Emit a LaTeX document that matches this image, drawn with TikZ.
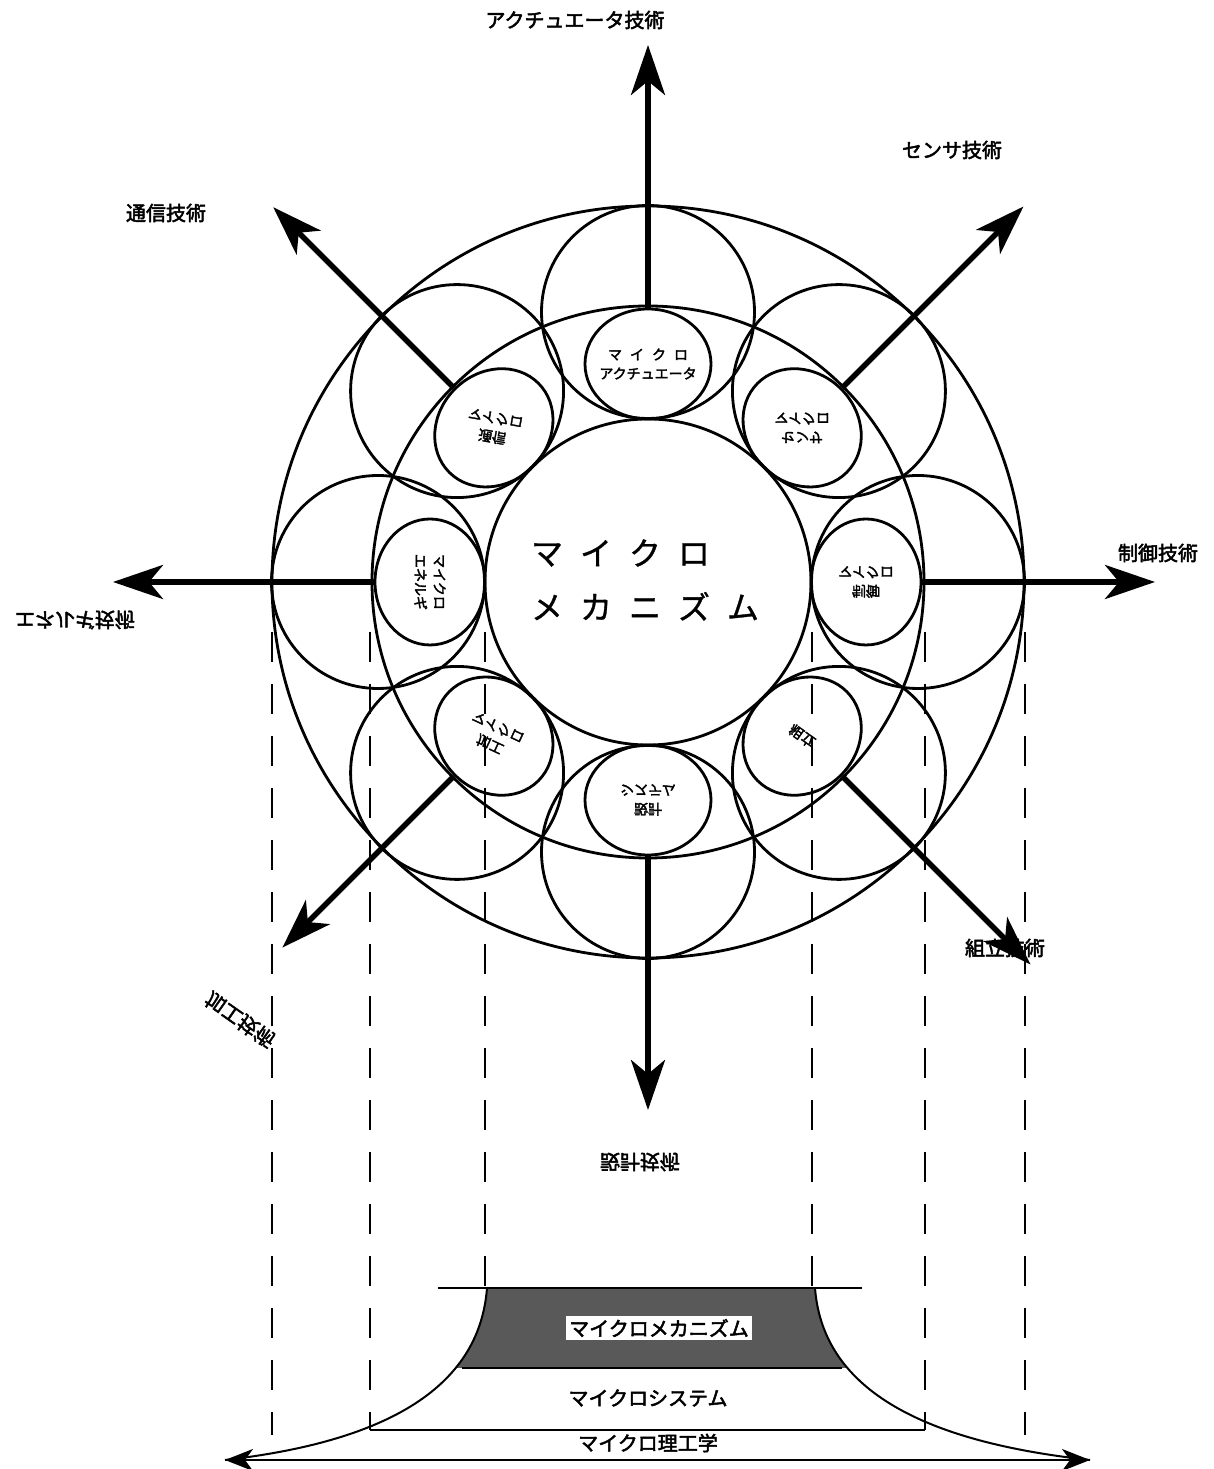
\documentclass[tikz,border=0pt]{standalone}
\usepackage{fontspec}
\usetikzlibrary{arrows.meta,calc,shapes.geometric}
\newfontfamily\jp[FakeBold=1]{Noto Sans CJK JP}
\newfontfamily\jpb[FakeBold=2.5]{Noto Sans CJK JP}
\newcommand\gap{\hspace{17pt}}
\newcommand\sgap{\hspace{8pt}}
\begin{document}
\begin{tikzpicture}[x=1pt,y=1pt,
  ring/.style={circle, draw, line width=2.8pt, inner sep=0pt},
  cell/.style={ellipse, draw, line width=2.8pt, inner sep=0pt, minimum width=126pt, minimum height=110pt},
  bigarrow/.style={line width=5.5pt, -{Stealth[length=50pt,width=34pt,inset=14pt]}},
  guide/.style={line width=2.2pt, dash pattern=on 30pt off 22pt},
  outlab/.style={font=\jpb\fontsize{20}{24}\selectfont, inner sep=1pt},
  inlab/.style={font=\jpb\fontsize{14}{19}\selectfont, align=center, inner sep=1pt},
  flip/.style={yscale=-1},
  band/.style={font=\jpb\fontsize{20}{22}\selectfont, inner sep=3pt},
  thin/.style={line width=2pt},
]
\useasboundingbox (0,0) rectangle (1213,1469);
\fill[white] (0,0) rectangle (1213,1469);
\coordinate (C) at (648,887);

% dashed guides
\foreach \n/\x/\yb in {a/272/34, b/370/39, c/485/179, d/812/179, e/925/39, f/1025/34} {
  \coordinate (gt\n) at (\x,837);
  \coordinate (gb\n) at (\x,\yb);
  \draw[guide] (gt\n) -- (gb\n);
}

% rings
\node[ring, minimum size=752pt] (outer) at (C) {};
\node[ring, minimum size=552pt] (middle) at (C) {};
\foreach \a in {0,45,...,315}
  \node[ring, minimum size=213pt] (big\a) at ($(C)+(\a:270)$) {};
\node[ring, minimum size=326pt] (core) at (C) {};
\foreach \a in {0,45,...,315}
  \node[cell, rotate=\a-90] (cell\a) at ($(C)+(\a:218)$) {};

% arrows
\foreach \a/\r in {0/507,45/531,90/537,135/530,180/535,225/517,270/528,315/541} {
  \coordinate (tip\a) at ($(C)+(\a:\r)$);
  \draw[bigarrow] (cell\a.north) -- (tip\a);
}

% centre text
\node[font=\jp\fontsize{32}{54}\selectfont, align=left, inner sep=0pt] (title) at (645,889)
  {マ\gap イ\gap ク\gap ロ\\メ\gap カ\gap ニ\gap ズ\gap ム};

% inner labels
\node[inlab] (t90) at (cell90) {マ\sgap イ\sgap ク\sgap ロ\\アクチュエータ};
\node[inlab, rotate=-10, flip] (t135) at (cell135) {通信\\マイクロ};
\node[inlab, flip] (t45) at (cell45) {センサ\\マイクロ};
\node[inlab, flip] (t0) at (cell0) {制御\\マイクロ};
\node[inlab, rotate=-35, flip] (t315) at (cell315) {組立};
\node[inlab, flip] (t270) at (cell270) {設計\\システム};
\node[inlab, rotate=-25, flip] (t225) at (cell225) {加工\\マイクロ};
\node[inlab, rotate=-90] (t180) at (cell180) {マイクロ\\エネルギ};

% outer labels
\node[outlab] (l90) at (575,1449) {アクチュエータ技術};
\node[outlab] (l45) at (952,1319) {センサ技術};
\node[outlab] (l135) at (166,1256) {通信技術};
\node[outlab, flip] (l180) at (75,849) {エネルギ技術};
\node[outlab] (l0) at (1158,916) {制御技術};
\node[outlab, rotate=-35, flip] (l225) at (240,449) {加工技術};
\node[outlab] (l315) at (1005,521) {組立技術};
\node[outlab, flip] (l270) at (640,307) {設計技術};

% bottom diagram
\begin{scope}
  \clip (0,101) rectangle (1213,181);
  \fill[black!65] (487,181) .. controls (480,89) and (400,29) .. (225,9)
     -- (1090,9) .. controls (905,29) and (822,89) .. (815,181) -- cycle;
\end{scope}
\coordinate (topL) at (438,181);
\coordinate (topR) at (862,181);
\draw[thin] (topL) -- (topR);
\coordinate (cL) at (487,181);
\coordinate (cR) at (815,181);
\coordinate (endL) at (225,9);
\coordinate (endR) at (1090,9);
\draw[thin] (cL) .. controls (480,89) and (400,29) .. (endL);
\draw[thin] (cR) .. controls (822,89) and (905,29) .. (endR);
\coordinate (mL) at (462,101);
\coordinate (mR) at (842,101);
\draw[thin] (mL) -- (mR);
\coordinate (lL) at (370,39);
\coordinate (lR) at (925,39);
\draw[thin] (lL) -- (lR);
\draw[thin, {Stealth[length=28pt,width=22pt,inset=8pt]}-{Stealth[length=28pt,width=22pt,inset=8pt]}] (endL) -- (endR);
\node[band, fill=white] (b1) at (659,141) {マイクロメカニズム};
\node[band] (b2) at (648,71) {マイクロシステム};
\node[band] (b3) at (648,26) {マイクロ理工学};
\end{tikzpicture}
\end{document}
